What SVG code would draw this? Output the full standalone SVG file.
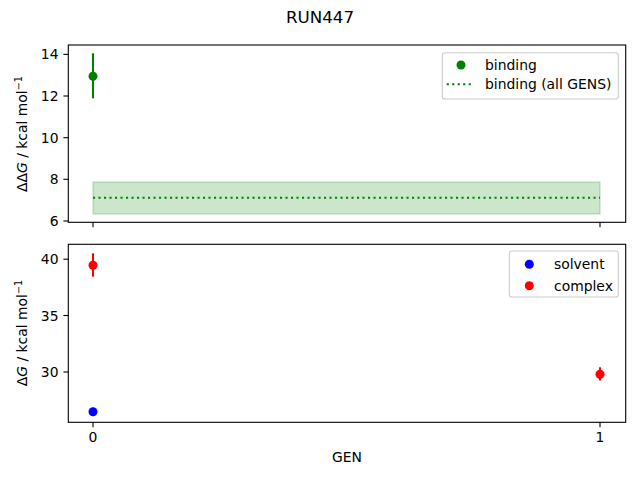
<svg xmlns="http://www.w3.org/2000/svg" width="640" height="480" viewBox="0 0 640 480">
<style>
text{font-family:"DejaVu Sans",sans-serif;font-size:13.9px;fill:#000}
.spine{fill:none;stroke:#000;stroke-width:1.1}
.tick{stroke:#000;stroke-width:1.1}
.ytl{text-anchor:end}
.xtl{text-anchor:middle}
.leg{fill:#fff;fill-opacity:0.8;stroke:#cccccc;stroke-width:1.1}
.eg{stroke:#008000;stroke-width:2.1}
.er{stroke:#ff0000;stroke-width:2.1}
</style>
<rect width="640" height="480" fill="#fff"/>
<text x="320" y="22.7" text-anchor="middle" style="font-size:16.7px">RUN447</text>

<g id="top-axes">
  <rect x="93" y="182" width="507" height="32" fill="#008000" fill-opacity="0.2" stroke="#008000" stroke-opacity="0.2" stroke-width="1.4"/>
  <line x1="93" y1="197.7" x2="600" y2="197.7" stroke="#008000" stroke-width="2.1" stroke-dasharray="2.1 3.4"/>
  <line class="eg" x1="93" y1="53.3" x2="93" y2="98.3"/>
  <circle cx="93" cy="76.3" r="4.5" fill="#008000"/>
  <rect class="spine" x="68.3" y="45" width="557.4" height="177.3"/>
  <g class="tick">
    <line x1="68.3" y1="221" x2="63.4" y2="221"/>
    <line x1="68.3" y1="179.3" x2="63.4" y2="179.3"/>
    <line x1="68.3" y1="137.7" x2="63.4" y2="137.7"/>
    <line x1="68.3" y1="96" x2="63.4" y2="96"/>
    <line x1="68.3" y1="54.4" x2="63.4" y2="54.4"/>
    <line x1="93" y1="222.3" x2="93" y2="227.2"/>
    <line x1="600" y1="222.3" x2="600" y2="227.2"/>
  </g>
  <text class="ytl" x="58.5" y="226">6</text>
  <text class="ytl" x="58.5" y="184.3">8</text>
  <text class="ytl" x="58.5" y="142.7">10</text>
  <text class="ytl" x="58.5" y="101">12</text>
  <text class="ytl" x="58.5" y="59.4">14</text>
  <text transform="translate(27,134) rotate(-90)" text-anchor="middle">ΔΔ<tspan font-style="italic">G</tspan> / kcal mol<tspan dy="-5" style="font-size:9.7px">−1</tspan></text>
  <g id="top-legend">
    <rect class="leg" x="442.3" y="52.7" width="176" height="46.3" rx="2.8"/>
    <circle cx="461" cy="65" r="4.5" fill="#008000"/>
    <text x="485" y="70">binding</text>
    <line x1="446.7" y1="84.3" x2="472" y2="84.3" stroke="#008000" stroke-width="2.1" stroke-dasharray="2.1 3.4"/>
    <text x="485" y="89.3">binding (all GENS)</text>
  </g>
</g>

<g id="bottom-axes">
  <line class="er" x1="93" y1="253.3" x2="93" y2="276.7"/>
  <circle cx="93" cy="265.3" r="4.5" fill="#ff0000"/>
  <line class="er" x1="600" y1="367.3" x2="600" y2="380.5"/>
  <circle cx="600" cy="374.3" r="4.5" fill="#ff0000"/>
  <circle cx="93" cy="411.7" r="4.5" fill="#0000ff"/>
  <rect class="spine" x="68.3" y="244.3" width="557.4" height="178"/>
  <g class="tick">
    <line x1="68.3" y1="372" x2="63.4" y2="372"/>
    <line x1="68.3" y1="315.5" x2="63.4" y2="315.5"/>
    <line x1="68.3" y1="259.2" x2="63.4" y2="259.2"/>
    <line x1="93" y1="422.3" x2="93" y2="427.2"/>
    <line x1="600" y1="422.3" x2="600" y2="427.2"/>
  </g>
  <text class="ytl" x="58.5" y="377">30</text>
  <text class="ytl" x="58.5" y="320.5">35</text>
  <text class="ytl" x="58.5" y="264.2">40</text>
  <text class="xtl" x="93" y="441.7">0</text>
  <text class="xtl" x="600" y="441.7">1</text>
  <text x="347" y="461.7" text-anchor="middle">GEN</text>
  <text transform="translate(27,333) rotate(-90)" text-anchor="middle">Δ<tspan font-style="italic">G</tspan> / kcal mol<tspan dy="-5" style="font-size:9.7px">−1</tspan></text>
  <g id="bottom-legend">
    <rect class="leg" x="509.3" y="251" width="109" height="46" rx="2.8"/>
    <circle cx="529.3" cy="264.3" r="4.5" fill="#0000ff"/>
    <text x="554" y="269.3">solvent</text>
    <circle cx="529.3" cy="285.7" r="4.5" fill="#ff0000"/>
    <text x="554" y="290.7">complex</text>
  </g>
</g>
</svg>
